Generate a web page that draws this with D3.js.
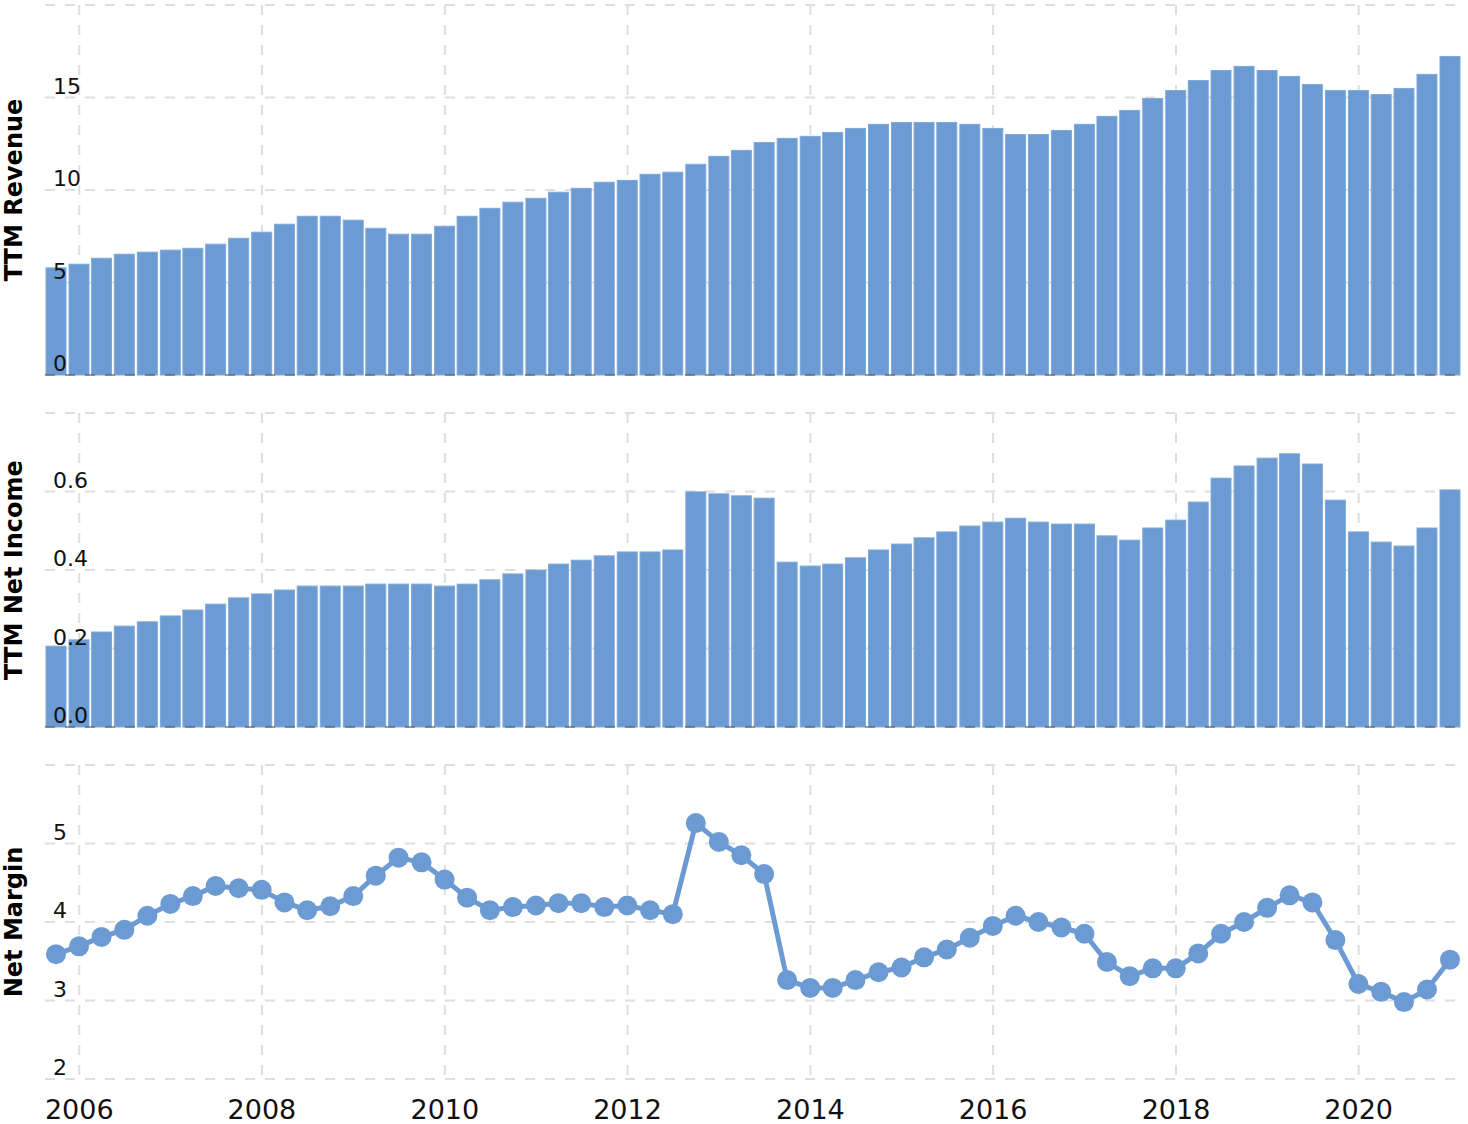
<!DOCTYPE html>
<html><head><meta charset="utf-8">
<script src="https://cdn.jsdelivr.net/npm/d3@7"></script>
<style>body{margin:0;background:#fff} svg{display:block}</style>
</head><body><svg id="chart" width="1468" height="1124"></svg>
<script>
const quarters = [
  "2005-09-30","2005-12-31",
  "2006-03-31","2006-06-30","2006-09-30","2006-12-31",
  "2007-03-31","2007-06-30","2007-09-30","2007-12-31",
  "2008-03-31","2008-06-30","2008-09-30","2008-12-31",
  "2009-03-31","2009-06-30","2009-09-30","2009-12-31",
  "2010-03-31","2010-06-30","2010-09-30","2010-12-31",
  "2011-03-31","2011-06-30","2011-09-30","2011-12-31",
  "2012-03-31","2012-06-30","2012-09-30","2012-12-31",
  "2013-03-31","2013-06-30","2013-09-30","2013-12-31",
  "2014-03-31","2014-06-30","2014-09-30","2014-12-31",
  "2015-03-31","2015-06-30","2015-09-30","2015-12-31",
  "2016-03-31","2016-06-30","2016-09-30","2016-12-31",
  "2017-03-31","2017-06-30","2017-09-30","2017-12-31",
  "2018-03-31","2018-06-30","2018-09-30","2018-12-31",
  "2019-03-31","2019-06-30","2019-09-30","2019-12-31",
  "2020-03-31","2020-06-30","2020-09-30","2020-12-31"
];
const revenue = [
  5.79,5.99,6.31,6.53,6.64,6.75,6.85,7.07,7.39,7.72,
  8.15,8.58,8.58,8.37,7.93,7.61,7.61,8.04,8.58,9.01,
  9.34,9.55,9.88,10.09,10.42,10.52,10.85,10.96,11.39,11.82,
  12.14,12.57,12.79,12.90,13.11,13.33,13.55,13.65,13.65,13.65,
  13.55,13.33,13.00,13.00,13.22,13.55,13.98,14.30,14.95,15.38,
  15.92,16.46,16.68,16.46,16.14,15.70,15.38,15.38,15.16,15.49,
  16.25,17.22
];
const netIncome = [
  0.206,0.222,0.242,0.257,0.268,0.283,0.298,0.313,0.329,0.339,
  0.349,0.359,0.359,0.359,0.364,0.364,0.364,0.359,0.364,0.375,
  0.390,0.400,0.415,0.425,0.436,0.446,0.446,0.451,0.599,0.594,
  0.589,0.583,0.420,0.410,0.415,0.431,0.451,0.466,0.482,0.497,
  0.512,0.522,0.532,0.522,0.517,0.517,0.487,0.476,0.507,0.527,
  0.573,0.634,0.665,0.685,0.696,0.670,0.578,0.497,0.471,0.461,
  0.507,0.604
];
const netMargin = [
  3.59,3.69,3.81,3.90,4.08,4.23,4.33,4.46,4.43,4.41,
  4.25,4.15,4.20,4.33,4.59,4.82,4.76,4.54,4.31,4.15,
  4.19,4.21,4.24,4.24,4.19,4.21,4.15,4.10,5.26,5.02,
  4.85,4.61,3.26,3.16,3.16,3.26,3.36,3.42,3.55,3.65,
  3.80,3.95,4.08,4.00,3.93,3.85,3.49,3.31,3.41,3.41,
  3.60,3.85,4.00,4.18,4.34,4.25,3.77,3.21,3.11,2.98,
  3.14,3.52
];
const yearTicks = [2006,2008,2010,2012,2014,2016,2018,2020];
const revenueTicks = [0,5,10,15,20];
const incomeTicks = [0,0.2,0.4,0.6,0.8];
const marginTicks = [2,3,4,5,6];
const titles = ["TTM Revenue","TTM Net Income","Net Margin"];

const COLOR = "#6b9bd2";
const GRID = "#dedede";
const FONT = "'DejaVu Sans', Verdana, sans-serif";
const svg = d3.select("#chart");
const parse = d3.timeParse("%Y-%m-%d");
const dates = quarters.map(parse);
const L = 45, R = 1460;
const x = d3.scaleTime().domain(d3.extent(dates)).range([56, 1450]);
const barW = (x(new Date(2011,0,1)) - x(new Date(2010,0,1))) / 4 * 0.875;

const panels = [
  {values: revenue, ticks: revenueTicks, range:[375,5], fmt: d3.format("d"), type:"bar", title: titles[0]},
  {values: netIncome, ticks: incomeTicks, range:[727,413], fmt: d3.format(".1f"), type:"bar", title: titles[1]},
  {values: netMargin, ticks: marginTicks, range:[1079,765], fmt: d3.format("d"), type:"line", title: titles[2]}
];

panels.forEach(p => {
  const y = d3.scaleLinear().domain(d3.extent(p.ticks)).range(p.range);
  const g = svg.append("g");
  const top = p.range[1], bot = p.range[0];
  g.selectAll("line.h").data(p.ticks).join("line")
    .attr("x1", L).attr("x2", R)
    .attr("y1", d => y(d)).attr("y2", d => y(d))
    .attr("stroke", GRID).attr("stroke-width", 2).attr("stroke-dasharray", "10,10");
  g.selectAll("line.v").data(yearTicks).join("line")
    .attr("x1", d => x(new Date(d,0,1))).attr("x2", d => x(new Date(d,0,1)))
    .attr("y1", top).attr("y2", bot)
    .attr("stroke", GRID).attr("stroke-width", 2).attr("stroke-dasharray", "10,10");

  const data = dates.map((d,i) => ({d, v: p.values[i]}));
  if (p.type === "bar") {
    g.selectAll("rect").data(data).join("rect")
      .attr("x", d => x(d.d) - barW/2)
      .attr("width", barW)
      .attr("y", d => y(d.v))
      .attr("height", d => y(0) - y(d.v))
      .attr("fill", COLOR)
      .attr("stroke", "#7fa9d9").attr("stroke-width", 1);
    g.append("line").attr("x1", L).attr("x2", R).attr("y1", y(0)).attr("y2", y(0))
      .attr("stroke", "#000").attr("stroke-opacity", 0.28).attr("stroke-width", 2)
      .attr("stroke-dasharray", "10,10");
  } else {
    const line = d3.line().x(d => x(d.d)).y(d => y(d.v));
    g.append("path").datum(data).attr("d", line)
      .attr("fill", "none").attr("stroke", COLOR).attr("stroke-width", 5)
      .attr("stroke-linejoin", "round");
    g.selectAll("circle").data(data).join("circle")
      .attr("cx", d => x(d.d)).attr("cy", d => y(d.v)).attr("r", 10)
      .attr("fill", COLOR);
  }
  g.selectAll("text.tick").data(p.ticks.slice(0, -1)).join("text")
    .attr("class", "tick")
    .attr("x", 53).attr("y", d => y(d) - 4)
    .attr("font-family", FONT).attr("font-size", 22).attr("fill", "#111")
    .text(d => p.fmt(d));
  g.append("text")
    .attr("transform", `translate(21.5,${(top+bot)/2}) rotate(-90)`)
    .attr("text-anchor", "middle")
    .attr("font-family", FONT).attr("font-size", 24).attr("font-weight", "bold")
    .attr("fill", "#000")
    .text(p.title);
});

svg.append("g").selectAll("text").data(yearTicks).join("text")
  .attr("x", d => x(new Date(d,0,1))).attr("y", 1119)
  .attr("text-anchor", "middle")
  .attr("font-family", FONT).attr("font-size", 27).attr("fill", "#111")
  .text(d => d);
</script>
</body></html>
